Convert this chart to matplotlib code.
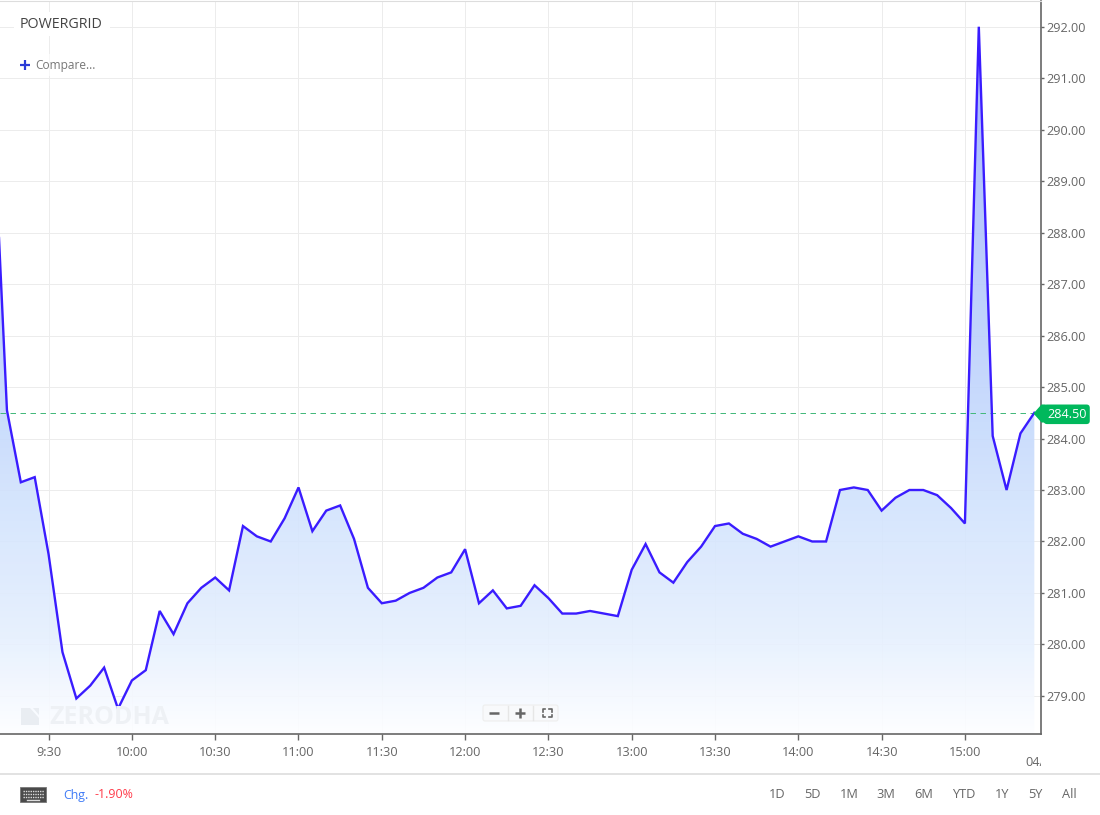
import matplotlib
matplotlib.use('Agg')
import numpy as np
import matplotlib.pyplot as plt
from matplotlib.patches import Rectangle, FancyBboxPatch, Polygon
from matplotlib.colors import LinearSegmentedColormap

plt.rcParams['font.family'] = ['Open Sans', 'DejaVu Sans']

# 5 minute candles, minutes since midnight
start_minute = 9 * 60 + 10
prices = [290.4, 284.55, 283.15, 283.25, 281.75, 279.85, 278.95, 279.2, 279.55, 278.75,
          279.3, 279.5, 280.65, 280.2, 280.8, 281.1, 281.3, 281.05, 282.3, 282.1,
          282.0, 282.45, 283.05, 282.2, 282.6, 282.7, 282.05, 281.1, 280.8, 280.85,
          281.0, 281.1, 281.3, 281.4, 281.85, 280.8, 281.05, 280.7, 280.75, 281.15,
          280.9, 280.6, 280.6, 280.65, 280.6, 280.55, 281.45, 281.95, 281.4, 281.2,
          281.6, 281.9, 282.3, 282.35, 282.15, 282.05, 281.9, 282.0, 282.1, 282.0,
          282.0, 283.0, 283.05, 283.0, 282.6, 282.85, 283.0, 283.0, 282.9, 282.65,
          282.35, 292.0, 284.05, 283.0, 284.1, 284.5]
minutes = [start_minute + 5 * i for i in range(len(prices))]
last_price = 284.5

price_ticks = [279, 280, 281, 282, 283, 284, 285, 286, 287, 288, 289, 290, 291, 292]
time_ticks = [570, 600, 630, 660, 690, 720, 750, 780, 810, 840, 870, 900]
time_labels = ['9:30', '10:00', '10:30', '11:00', '11:30', '12:00', '12:30',
               '13:00', '13:30', '14:00', '14:30', '15:00']
periods = ['1D', '5D', '1M', '3M', '6M', 'YTD', '1Y', '5Y', 'All']
period_x = [777, 812, 849, 886, 924, 964, 1002, 1035, 1069]

W, H = 1100, 815
fig = plt.figure(figsize=(W / 100, H / 100), dpi=100, facecolor='white')

# chart area, pixel box from the screenshot
L, R, T, B = 0, 1041, 1, 734
XLIM = (552.5, 927.4)
YLIM = (278.26, 292.5)
ax = fig.add_axes([L / W, 1 - B / H, (R - L) / W, (B - T) / H])
ax.set_facecolor('white')

ax.set_xticks(time_ticks)
ax.set_xticklabels(time_labels)
ax.set_yticks(price_ticks)
ax.set_yticklabels([f'{p:.2f}' for p in price_ticks])
ax.yaxis.tick_right()
ax.tick_params(axis='x', length=4, width=1, color='#666666', labelcolor='#666666', labelsize=9.2, pad=4.5)
ax.tick_params(axis='y', length=2.5, width=1, color='#666666', labelcolor='#666666', labelsize=9.1, pad=1.5)
ax.grid(True, color='#ececec', linewidth=0.72)
ax.set_axisbelow(True)

ax.spines['left'].set_visible(False)
ax.spines['top'].set_color('#dddddd')
ax.spines['right'].set_color('#666666')
ax.spines['bottom'].set_color('#666666')
for side in ['right', 'bottom']:
    ax.spines[side].set_linewidth(1.2)

# area with a vertical gradient, clipped to the region under the line
fade = LinearSegmentedColormap.from_list('fade', [
    (0.0, '#fdfeff'), (0.05, '#f5f9ff'), (0.133, '#e6f0fe'), (0.33, '#d2e3fd'),
    (0.44, '#c6dafc'), (0.85, '#a8bbfd'), (1.0, '#9fb0fd')])
area = ax.fill_between(minutes, prices, YLIM[0], color='none', linewidth=0)
grad = np.linspace(1, 0, 256).reshape(-1, 1)
img = ax.imshow(grad, extent=[minutes[0], minutes[-1], YLIM[0], 292.0], aspect='auto',
                cmap=fade, vmin=0, vmax=1, zorder=1.5, interpolation='bilinear', alpha=0.92)
img.set_clip_path(area.get_paths()[0], transform=ax.transData)
ax.set_xlim(*XLIM)
ax.set_ylim(*YLIM)

ax.plot(minutes, prices, color='#3a1cff', linewidth=1.7, zorder=3, solid_joinstyle='miter')
ax.axhline(last_price, color='#45b97c', linewidth=0.72, linestyle=(0, (5.5, 4.5)), zorder=2.5)

# last price tag on the axis, arrow is a custom marker anchored on the spine
yax = ax.get_yaxis_transform()
arrow = [(-8, 0), (0, 9), (4, 9), (4, -9), (0, -9), (-8, 0)]
ax.plot([1], [last_price], marker=arrow, markersize=13, color='#00b85c',
        transform=yax, clip_on=False, zorder=6, markeredgewidth=0)
ax.text(1 + 6 / (R - L), last_price, f'{last_price:.2f}', transform=yax, color='white', fontsize=9.1,
        va='center_baseline', ha='left', zorder=7, clip_on=False,
        bbox=dict(boxstyle='round,pad=0.26', facecolor='#00b85c', edgecolor='none'))

# everything that is not the chart sits on an overlay in pixels
ov = fig.add_axes([0, 0, 1, 1], facecolor='none')
ov.set_xlim(0, W)
ov.set_ylim(H, 0)
ov.axis('off')

ov.add_patch(Rectangle((14, 12), 96, 24, facecolor='white', edgecolor='none'))
ov.text(20, 24.5, 'POWERGRID', fontsize=10.3, color='#444444', va='center')
ov.add_patch(Rectangle((14, 54), 86, 22, facecolor='white', edgecolor='none', alpha=0.6))
ov.plot([20, 30], [65, 65], color='#2a3bd6', lw=1.6, solid_capstyle='butt')
ov.plot([25, 25], [60, 70], color='#2a3bd6', lw=1.6, solid_capstyle='butt')
ov.text(35.5, 65.5, 'Compare...', fontsize=8.6, color='#777777', va='center')

# watermark
ov.add_patch(Polygon([(21, 708), (30, 708), (39, 718), (39, 725), (21, 725)], facecolor='#e9edf2', edgecolor='none'))
ov.add_patch(Polygon([(33, 708), (39, 708), (39, 715)], facecolor='#e9edf2', edgecolor='none'))
ov.text(49, 717, 'ZERODHA', fontsize=18, fontweight='bold', color='#eef1f5', va='center')

# zoom controls
ov.add_patch(FancyBboxPatch((483, 705), 75, 16, boxstyle='round,pad=0,rounding_size=2',
                            facecolor='#f8f9fb', edgecolor='#eeeeee', lw=0.8))
for px in [508, 533]:
    ov.plot([px, px], [706, 720], color='#e6e6e6', lw=1)
ov.plot([489, 499], [713, 713], color='#666666', lw=1.8, solid_capstyle='butt')
ov.plot([515, 525], [713, 713], color='#666666', lw=1.8, solid_capstyle='butt')
ov.plot([520, 520], [708, 718], color='#666666', lw=1.8, solid_capstyle='butt')
for cx, dx in [(542.5, 1), (551.5, -1)]:
    for cy, dy in [(709, 1), (717, -1)]:
        ov.plot([cx + 2.5 * dx, cx, cx], [cy, cy, cy + 2.5 * dy], color='#666666', lw=1.2)

# date stub that gets cut off at the axis edge
stub = ov.text(1025, 763, '04/', fontsize=9.2, color='#666666', va='center', clip_on=True)
stub.set_clip_path(Rectangle((1000, 750), 41, 25, transform=ov.transData))

# footer
ov.plot([0, W], [774, 774], color='#dddddd', lw=1.2)
ov.add_patch(Rectangle((20, 787), 26, 15, facecolor='#4a4a4a', edgecolor='#777777', lw=0.6))
for row_y in [790.5, 793.5, 796.5]:
    ov.plot([22.5, 43.5], [row_y, row_y], color='#dddddd', lw=1, linestyle=(0, (1, 0.7)))
ov.plot([27, 39], [799.5, 799.5], color='#dddddd', lw=1)
ov.text(63.5, 795, 'Chg.', fontsize=8.9, color='#3f7bf6', va='center')
ov.text(94.5, 795, '-1.90%', fontsize=8.9, color='#ff3b4a', va='center')
for label, px in zip(periods, period_x):
    ov.text(px, 795, label, fontsize=9.2, color='#666666', va='center', ha='center')

fig.savefig('out.png', dpi=100, facecolor='white')
